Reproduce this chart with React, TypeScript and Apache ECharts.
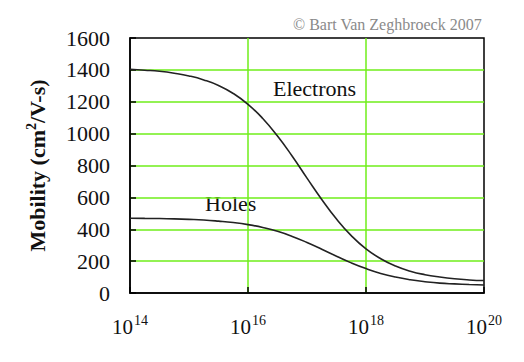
import React, { useEffect, useRef } from "react";
import * as echarts from "echarts";

// log10 of doping concentration (cm^-3)
const logConc = [
  14, 14.25, 14.5, 14.75, 15, 15.25, 15.5, 15.75, 16, 16.25, 16.5, 16.75, 17,
  17.25, 17.5, 17.75, 18, 18.25, 18.5, 18.75, 19, 19.25, 19.5, 19.75, 20,
];
const electrons = [
  1404, 1398, 1391, 1379, 1362, 1337, 1302, 1252, 1184, 1095, 985, 858, 721,
  587, 464, 360, 277, 215, 169, 137, 115, 100, 89, 82, 78,
];
const holes = [
  469, 468, 467, 465, 462, 458, 451, 442, 429, 411, 387, 355, 317, 275, 231,
  189, 153, 123, 100, 83, 71, 62, 57, 53, 50,
];
const xTicks = [14, 16, 18, 20];
const yTicks = [0, 200, 400, 600, 800, 1000, 1200, 1400, 1600];

const SERIF = "Liberation Serif";
const GREEN = "#6fee1a";

export default function App() {
  const ref = useRef<HTMLDivElement>(null);
  useEffect(() => {
    if (!ref.current) return;
    const chart = echarts.init(ref.current, undefined, { renderer: "svg" });
    chart.setOption({
      animation: false,
      backgroundColor: "#ffffff",
      textStyle: { fontFamily: SERIF },
      grid: {
        left: 130,
        right: 40,
        top: 38,
        bottom: 69,
        show: true,
        borderColor: "#000",
        borderWidth: 1.5,
        backgroundColor: "transparent",
      },
      xAxis: {
        type: "value",
        min: xTicks[0],
        max: xTicks[xTicks.length - 1],
        interval: 2,
        axisLine: { show: true, lineStyle: { color: "#000", width: 1.5 } },
        axisTick: { show: true, inside: true, length: 6, lineStyle: { color: "#000", width: 1.5 } },
        splitLine: {
          show: true,
          showMinLine: false,
          showMaxLine: false,
          lineStyle: { color: GREEN, width: 1.5 },
        },
        axisLabel: {
          margin: 20,
          formatter: (v: number) => `{b|10}{s|${Math.round(v)}}`,
          rich: {
            b: { fontFamily: SERIF, fontSize: 21, color: "#111", lineHeight: 24, verticalAlign: "bottom" },
            s: { fontFamily: SERIF, fontSize: 14, color: "#111", lineHeight: 24, verticalAlign: "top", padding: [0, 0, 0, 1] },
          },
        },
      },
      yAxis: {
        type: "value",
        min: yTicks[0],
        max: yTicks[yTicks.length - 1],
        interval: 200,
        name: "Mobility (cm{s|2}/V-s)",
        nameLocation: "middle",
        nameRotate: 90,
        nameGap: 80,
        nameTextStyle: {
          fontFamily: SERIF,
          fontWeight: "bold",
          fontSize: 22,
          color: "#111",
          rich: {
            s: { fontFamily: SERIF, fontWeight: "bold", fontSize: 14, color: "#111", verticalAlign: "top", lineHeight: 26 },
          },
        },
        axisLine: { show: true, lineStyle: { color: "#000", width: 1.5 } },
        axisTick: { show: true, inside: true, length: 6, lineStyle: { color: "#000", width: 1.5 } },
        splitLine: {
          show: true,
          showMinLine: false,
          showMaxLine: false,
          lineStyle: { color: GREEN, width: 1.5 },
        },
        axisLabel: {
          margin: 20,
          fontFamily: SERIF,
          fontSize: 22,
          color: "#111",
          formatter: (v: number) => String(v),
        },
      },
      series: [
        {
          name: "Electrons",
          type: "line",
          data: logConc.map((x, i) => [x, electrons[i]]),
          smooth: true,
          showSymbol: false,
          lineStyle: { color: "#222", width: 1.6 },
          z: 5,
        },
        {
          name: "Holes",
          type: "line",
          data: logConc.map((x, i) => [x, holes[i]]),
          smooth: true,
          showSymbol: false,
          lineStyle: { color: "#222", width: 1.6 },
          z: 5,
        },
      ],
      graphic: [
        {
          type: "text",
          left: 273,
          top: 77,
          style: { text: "Electrons", fontFamily: SERIF, fontSize: 22, fill: "#111" },
        },
        {
          type: "text",
          left: 205,
          top: 192,
          style: { text: "Holes", fontFamily: SERIF, fontSize: 22, fill: "#111" },
        },
        {
          type: "text",
          right: 42,
          top: 16,
          style: { text: "© Bart Van Zeghbroeck 2007", fontFamily: SERIF, fontSize: 16, fill: "#8a8a8a" },
        },
      ],
    });
    return () => chart.dispose();
  }, []);
  return (
    <div
      ref={ref}
      style={{ position: "fixed", left: 0, top: 0, width: 524, height: 362 }}
    />
  );
}
